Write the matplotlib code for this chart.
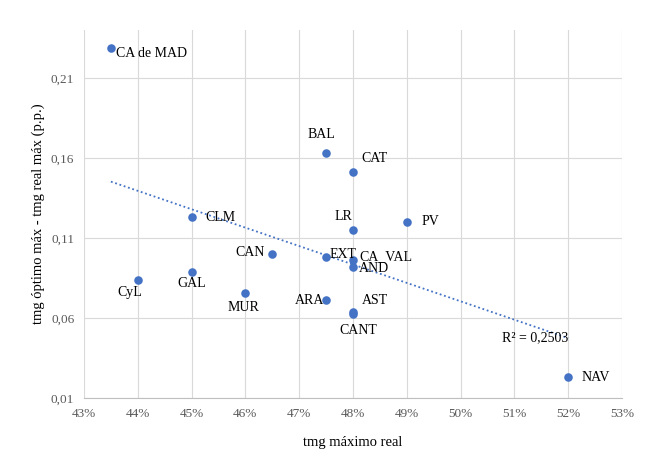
import numpy as np
import matplotlib
matplotlib.use("Agg")
import matplotlib.pyplot as plt
from matplotlib.ticker import FuncFormatter

plt.rcParams['font.family'] = ['Liberation Serif', 'DejaVu Serif']

# data
regiones = ["CA de MAD", "BAL", "CAT", "PV", "LR", "CLM", "CAN", "EXT", "CA_VAL",
            "AND", "CyL", "GAL", "MUR", "ARA", "AST", "CANT", "NAV"]
tmg_real = [0.435, 0.475, 0.48, 0.49, 0.48, 0.45, 0.465, 0.475, 0.48,
            0.48, 0.44, 0.45, 0.46, 0.475, 0.48, 0.48, 0.52]
dif_pp = [0.229, 0.163, 0.151, 0.120, 0.115, 0.123, 0.100, 0.098, 0.096,
          0.092, 0.0835, 0.089, 0.0755, 0.071, 0.064, 0.0625, 0.023]
r2_texto = "R² = 0,2503"

# label offsets in pixels (dx, dy) and alignment
offs = {
    "CA de MAD": (5, -6, "left"), "BAL": (-5, 19, "center"), "CAT": (8, 14, "left"),
    "PV": (15, 0, "left"), "LR": (-10, 13, "center"), "CLM": (14, 0, "left"),
    "CAN": (-8, 1, "right"), "EXT": (3, 3, "left"), "CA_VAL": (6, 4, "left"),
    "AND": (6, -2, "left"), "CyL": (-8, -12, "center"), "GAL": (0, -12, "center"),
    "MUR": (-2, -14, "center"), "ARA": (-2, 0, "right"), "AST": (9, 11, "left"),
    "CANT": (5, -17, "center"), "NAV": (13, 0, "left"),
}

fig = plt.figure(figsize=(6.69, 4.76), dpi=100)
ax = fig.add_axes([84/669, 78/476, 538/669, 368/476])

azul = "#4472C4"
ax.scatter(tmg_real, dif_pp, s=38, color=azul, zorder=3, linewidths=0)

k = 0.72  # px -> pt at 100 dpi
for r, x, y in zip(regiones, tmg_real, dif_pp):
    dx, dy, ha = offs[r]
    ax.annotate(r, (x, y), xytext=(dx*k, dy*k), textcoords="offset points",
                ha=ha, va="center", fontsize=10, color="#000000")

# linear trend line
p = np.polyfit(tmg_real, dif_pp, 1)
xs = np.array([min(tmg_real), max(tmg_real)])
ax.plot(xs, np.polyval(p, xs), color=azul, lw=1.3, ls=(0, (1, 1.5)), zorder=2)
ax.text(0.5200, 0.0475, r2_texto, fontsize=10, ha="right", va="center")

ax.set_xlim(0.43, 0.53)
ax.set_ylim(0.01, 0.24)
ax.set_xticks(np.arange(0.43, 0.5301, 0.01))
ax.set_yticks([0.01, 0.06, 0.11, 0.16, 0.21])
ax.xaxis.set_major_formatter(FuncFormatter(lambda v, _: f"{v*100:.0f}%"))
ax.yaxis.set_major_formatter(FuncFormatter(lambda v, _: f"{v:.2f}".replace(".", ",")))
ax.grid(True, color="#d9d9d9", lw=0.8)
ax.set_axisbelow(True)
for s in ["top", "right", "left"]:
    ax.spines[s].set_visible(False)
ax.spines["bottom"].set_color("#bfbfbf")
ax.tick_params(length=0, labelsize=9.5, colors="#595959", pad=7)

ax.set_xlabel("tmg máximo real", fontsize=10.5, labelpad=12)
ax.set_ylabel("tmg óptimo máx - tmg real máx (p.p.)", fontsize=10.5, labelpad=4)

fig.savefig("out.png", dpi=100)
